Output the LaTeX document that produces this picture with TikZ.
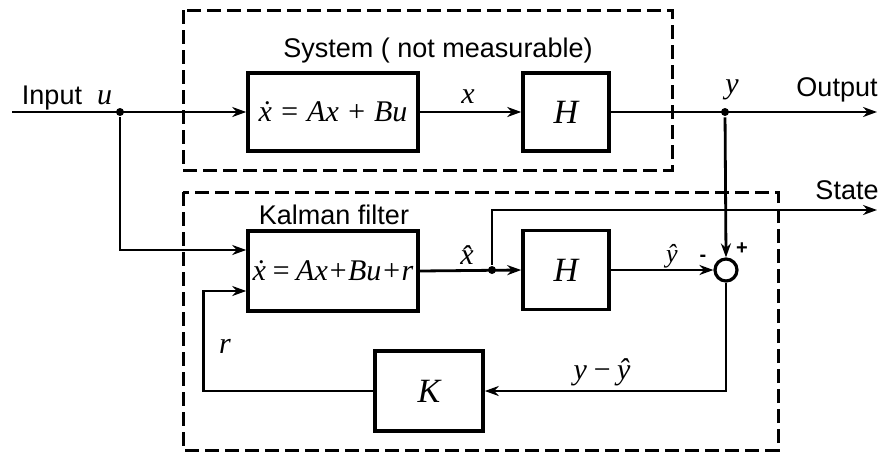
\documentclass[tikz,border=0pt]{standalone}
\usepackage{fontspec}
\setmainfont{Liberation Sans}
\newfontfamily\tms{Liberation Serif}
\newcommand{\mv}[1]{{\tms\itshape #1}}
\usetikzlibrary{arrows.meta,positioning}

\tikzset{
  block/.style={draw, line width=1.8pt, inner sep=0pt, font=\fontsize{15}{17}\selectfont},
  bigsym/.style={font=\fontsize{17}{19}\selectfont},
  frame/.style={line width=1.5pt, dash pattern=on 7pt off 3pt},
  junc/.style={circle, fill, inner sep=0pt, minimum size=4pt},
  lbl/.style={font=\fontsize{13.5}{15}\selectfont, inner sep=0pt},
  sym/.style={font=\fontsize{15}{17}\selectfont, inner sep=0pt}
}

\begin{document}
\begin{tikzpicture}[x=0.5pt, y=-0.5pt, line width=1.4pt,
    >={Stealth[length=7pt,width=5pt]}]
  \useasboundingbox (0,0) rectangle (881,455);

  % dashed frames
  \draw[frame] (183,10) rectangle (672,170);
  \draw[frame] (183,192) rectangle (778,450);

  % system
  \node[block, minimum width=85pt, minimum height=39pt] (sys) at (333,112) {\mv{\.x = Ax + Bu}};
  \node[block, bigsym, minimum width=43pt, minimum height=39pt] (hsys) at (566,112) {\mv{H}};

  % kalman filter
  \node[block, minimum width=85pt, minimum height=40pt] (kal) at (333,271) {\mv{\.x\,=\,Ax+Bu+r}};
  \node[block, bigsym, minimum width=43pt, minimum height=39.5pt] (hkal) at (566,270) {\mv{H}};
  \node[block, bigsym, minimum width=54pt, minimum height=40pt] (gain) at (429,391) {\mv{K}};
  \node[circle, draw, line width=1.6pt, minimum size=11pt, inner sep=0pt] (sum) at (726,270) {};

  % junctions
  \coordinate (in) at (12,112);
  \node[junc] (ju) at (120,112) {};
  \node[junc] (jy) at (725,112) {};
  \node[junc] (jx) at (492,270) {};
  \coordinate (out) at (877,112);
  \coordinate (state) at (877,210);

  % signals
  \draw[->] (in) -- (sys.west);
  \draw[->] (sys.east) -- (hsys.west);
  \draw[->] (hsys.east) -- (out);
  \draw[->] (ju) |- ([yshift=10.5pt]kal.west);
  \draw[->] (jy) -- (sum.north);
  \draw[->] (kal.east) -- (hkal.west);
  \draw[->] (jx) |- (state);
  \draw[->] (hkal.east) -- (sum.west);
  \draw[->] (sum.south) |- (gain.east);
  \draw[->] (gain.west) -- ++(-85pt,0) |- ([yshift=-10pt]kal.west);

  % labels
  \node[lbl] (linput) at (67,98) {Input\ \ {\fontsize{15}{17}\selectfont\mv{u}}};
  \node[lbl] (lsys) at (438,51) {System ( not measurable)};
  \node[lbl] (lkal) at (334,215) {Kalman filter};
  \node[sym] (lx) at (468,97) {\mv{x}};
  \node[sym] (ly) at (732,90) {\mv{y}};
  \node[lbl] (lout) at (837,90) {Output};
  \node[lbl] (lstate) at (847,190) {State};
  \node[sym] (lxh) at (467,255) {\mv{\^x}};
  \node[sym, font=\fontsize{13}{15}\selectfont] (lyh) at (672,256) {\mv{\^y}};
  \node[lbl, font=\bfseries] (lminus) at (703,258) {-};
  \node[lbl, font=\bfseries] (lplus) at (742,249) {+};
  \node[sym] (lerr) at (602,372) {\mv{y\,−\,\^y}};
  \node[sym] (lr) at (225,346) {\mv{r}};
\end{tikzpicture}
\end{document}
